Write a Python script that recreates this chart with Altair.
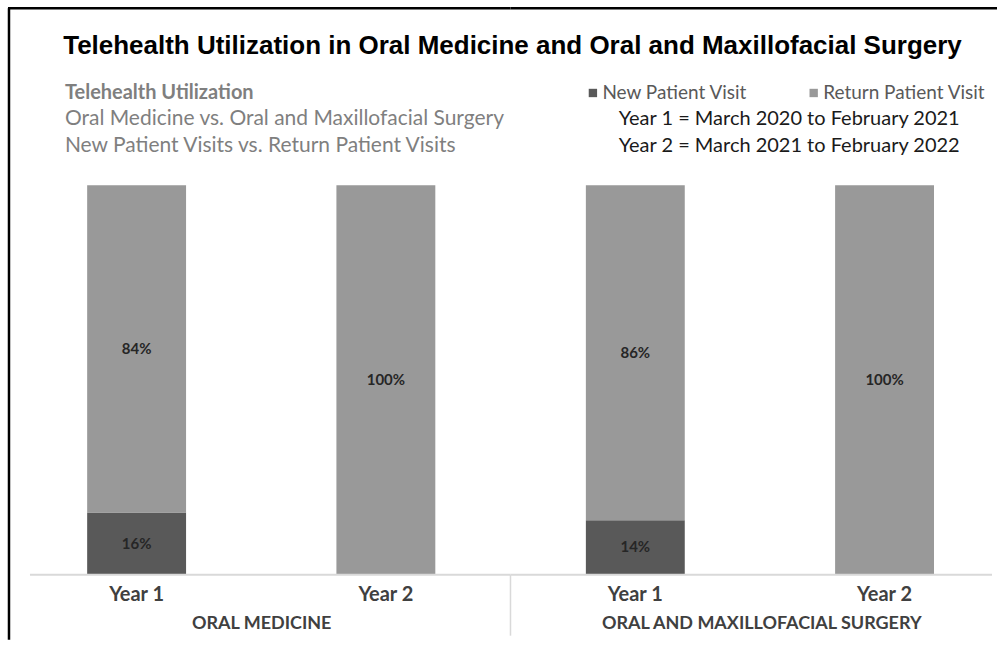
import altair as alt
import pandas as pd

categories = ["ORAL MEDICINE", "ORAL AND MAXILLOFACIAL SURGERY"]
years = ["Year 1", "Year 2"]
series = ["New Patient Visit", "Return Patient Visit"]
new_pct = {"ORAL MEDICINE": [16, 0], "ORAL AND MAXILLOFACIAL SURGERY": [14, 0]}
return_pct = {"ORAL MEDICINE": [84, 100], "ORAL AND MAXILLOFACIAL SURGERY": [86, 100]}

rows = []
for c in categories:
    for i, y in enumerate(years):
        rows.append({"category": c, "year": y, "series": series[0], "order": 0, "value": new_pct[c][i]})
        rows.append({"category": c, "year": y, "series": series[1], "order": 1, "value": return_pct[c][i]})
df = pd.DataFrame(rows)
one = pd.DataFrame({"k": [0]})

FONT = "Lato"
W1, W2, H = 499, 489, 390
DARK, LIGHT = "#595959", "#999999"
AXIS_GREY = "#d9d9d9"


def panel(cat, width, pad_outer, align, title_x, extra_layers):
    d = df[df["category"] == cat]
    base = alt.Chart(d).transform_stack(
        stack="value", as_=["v0", "v1"], groupby=["year"], sort=[alt.SortField("order")]
    ).transform_calculate(mid="(datum.v0 + datum.v1) / 2", label="datum.value + '%'")
    bars = base.mark_bar().encode(
        x=alt.X(
            "year:N",
            sort=years,
            scale=alt.Scale(paddingInner=0.6032, paddingOuter=pad_outer, align=align),
            axis=alt.Axis(
                title=cat, labelAngle=0, ticks=False, domain=False,
                labelFont=FONT, labelFontSize=20, labelFontWeight="bold", labelColor="#404040",
                labelPadding=10, titleFont=FONT, titleFontSize=18, titleFontWeight="bold",
                titleColor="#404040", titlePadding=10, titleX=title_x,
            ),
        ),
        y=alt.Y("v0:Q", scale=alt.Scale(domain=[0, 100]), axis=None),
        y2="v1:Q",
        color=alt.Color(
            "series:N",
            scale=alt.Scale(domain=series, range=[DARK, LIGHT]),
            legend=alt.Legend(
                title=None, orient="none", legendX=572, legendY=-102, direction="horizontal",
                symbolType="square", symbolSize=70, symbolStrokeWidth=0, labelFont=FONT,
                labelFontSize=19, labelColor="#595959", columnPadding=56, symbolOffset=0,
                labelOffset=0, labelLimit=400,
            ),
        ),
    )
    labels = base.transform_filter("datum.value > 0").mark_text(
        font=FONT, fontSize=15, fontWeight="bold", color="#262626"
    ).encode(x=alt.X("year:N", sort=years), y=alt.Y("mid:Q"), text="label:N")
    return alt.layer(bars, labels, *extra_layers).properties(width=width, height=H)


def txt(s, x, y, size, color, weight="normal", align="left", font=FONT):
    return alt.Chart(one).mark_text(
        text=s, fontSize=size, color=color, fontWeight=weight, align=align, baseline="middle", font=font
    ).encode(x=alt.value(x), y=alt.value(y))


def hrule(x1, x2, y, color, width):
    return alt.Chart(one).mark_rule(color=color, strokeWidth=width).encode(
        x=alt.value(x1), x2=alt.value(x2), y=alt.value(y))


left_extra = [
    alt.Chart(one).mark_rule(color="black", strokeWidth=2.5).encode(
        x=alt.value(-3), y=alt.value(-177), y2=alt.value(455)),
    hrule(-4, W1, -177, "black", 2.5),
    hrule(18, W1, H, AXIS_GREY, 2),
    txt("Telehealth Utilization in Oral Medicine and Oral and Maxillofacial Surgery",
        501, -139, 26, "black", "bold", "center", "Liberation Sans"),
    txt("Telehealth Utilization", 53, -92, 20, "#7f7f7f", "bold"),
    txt("Oral Medicine vs. Oral and Maxillofacial Surgery", 53, -66, 21, "#7f7f7f"),
    txt("New Patient Visits vs. Return Patient Visits", 53, -39, 21, "#7f7f7f"),
]
right_extra = [
    hrule(0, W2 - 2, -177, "black", 2.5),
    hrule(0, W2 - 7, H, AXIS_GREY, 2),
    alt.Chart(one).mark_rule(color=AXIS_GREY, strokeWidth=1.5).encode(
        x=alt.value(0), y=alt.value(H), y2=alt.value(H + 61)),
    txt("Year 1 = March 2020 to February 2021", 279, -66, 20, "#1a1a1a", "normal", "center"),
    txt("Year 2 = March 2021 to February 2022", 279, -39, 20, "#1a1a1a", "normal", "center"),
]

chart = alt.hconcat(
    panel(categories[0], W1, 0.3016, 0.5, W1 / 2, left_extra),
    panel(categories[1], W2, 0.2816, 0.537, 251, right_extra),
    spacing=0, bounds="flush",
).properties(
    padding={"left": 6, "top": 6, "right": 0, "bottom": 0},
    background="white",
).configure_view(stroke=None)

chart.save("out.html", embed_options={"renderer": "svg", "actions": False})
